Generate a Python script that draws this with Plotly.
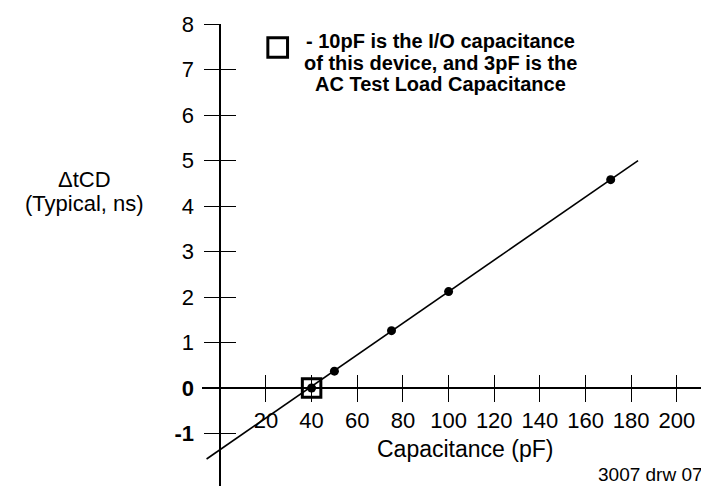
import plotly.graph_objects as go

# ---- data ----
cap_pf = [40, 50, 75, 100, 171]             # measured capacitance points (pF)
dtcd_ns = [0.0, 0.37, 1.26, 2.12, 4.58]     # ΔtCD (typical, ns)
ref_point_x = [40]                          # 10pF I/O + 3pF reference point
ref_point_y = [0.0]
fit_x = [-6, 183]                           # ends of the drawn straight line
fit_y = [-1.56, 5.0]
x_ticks = [20, 40, 60, 80, 100, 120, 140, 160, 180, 200]
y_ticks = [-1, 0, 1, 2, 3, 4, 5, 6, 7, 8]
y_tick_text = ["<b>-1</b>", "<b>0</b>", "1", "2", "3", "4", "5", "6", "7", "8"]
note_lines = ["- 10pF is the I/O capacitance",
              "of this device, and 3pF is the",
              "AC Test Load Capacitance"]

FONT = "Liberation Sans, Arial, sans-serif"
XR = [-8, 211]
YR = [-2.33, 8.002]
X0_POS = (0 - XR[0]) / (XR[1] - XR[0])      # where x=0 sits in paper x
Y0_POS = (0 - YR[0]) / (YR[1] - YR[0])      # where y=0 sits in paper y

fig = go.Figure()
fig.add_trace(go.Scatter(x=fit_x, y=fit_y, mode="lines",
                         line=dict(color="black", width=1.6),
                         showlegend=False, hoverinfo="skip"))
fig.add_trace(go.Scatter(x=cap_pf, y=dtcd_ns, mode="markers",
                         marker=dict(color="black", size=9),
                         showlegend=False, cliponaxis=False))
fig.add_trace(go.Scatter(x=ref_point_x, y=ref_point_y, mode="markers",
                         marker=dict(symbol="square-open", size=18.5, color="black",
                                     line=dict(color="black", width=3)),
                         showlegend=False, cliponaxis=False))
# empty trace so the overlay axes (inner half of the crossing ticks) are drawn
fig.add_trace(go.Scatter(x=[None], y=[None], xaxis="x2", yaxis="y2",
                         showlegend=False, hoverinfo="skip"))

common_x = dict(range=XR, tickmode="array", tickvals=x_ticks, showgrid=False,
                zeroline=False, anchor="free", position=Y0_POS,
                tickcolor="black", tickwidth=1.3, ticklen=13)
fig.update_layout(
    width=709, height=486,
    margin=dict(l=194, r=15, t=16, b=0, pad=0),
    paper_bgcolor="white", plot_bgcolor="white",
    font=dict(family=FONT, color="black"),
    xaxis=dict(**common_x, ticks="outside", showline=True, linecolor="black",
               linewidth=1.7, tickfont=dict(size=22, family=FONT, color="black"),
               ticklabelstandoff=0),
    xaxis2=dict(**common_x, ticks="inside", overlaying="x", showline=False,
                showticklabels=False),
    yaxis=dict(range=YR, tickmode="array", tickvals=y_ticks, ticktext=y_tick_text,
               showgrid=False, zeroline=False, anchor="free", position=X0_POS,
               ticks="outside", ticklen=15, tickwidth=1.3, tickcolor="black",
               showline=True, linecolor="black", linewidth=1.7,
               tickfont=dict(size=22, family=FONT, color="black"),
               ticklabelstandoff=6),
    yaxis2=dict(range=YR, tickmode="array", tickvals=[v for v in y_ticks if v != 0],
                showgrid=False, zeroline=False, anchor="free", position=X0_POS,
                overlaying="y", ticks="inside", ticklen=15, tickwidth=1.3,
                tickcolor="black", showline=False, showticklabels=False),
    showlegend=False,
)

# key square for the note
fig.add_shape(type="rect", xref="paper", yref="paper",
              x0=0.1317, x1=0.1711, y0=0.92904, y1=0.97096,
              line=dict(color="black", width=3), fillcolor="rgba(0,0,0,0)")

note_y = [0.9632, 0.917, 0.8723]
for txt, yy in zip(note_lines, note_y):
    fig.add_annotation(text=f"<b>{txt}</b>", xref="paper", yref="paper",
                       x=0.476, y=yy, xanchor="center", yanchor="middle",
                       showarrow=False, font=dict(size=20, family=FONT, color="black"))

# axis titles
fig.add_annotation(text="\u0394tCD", xref="paper", yref="paper", x=-0.235, y=0.6687,
                   xanchor="center", yanchor="middle", showarrow=False,
                   font=dict(size=22, family=FONT, color="black"))
fig.add_annotation(text="(Typical, ns)", xref="paper", yref="paper", x=-0.235, y=0.6191,
                   xanchor="center", yanchor="middle", showarrow=False,
                   font=dict(size=22, family=FONT, color="black"))
fig.add_annotation(text="Capacitance (pF)", xref="paper", yref="paper", x=0.525, y=0.0947,
                   xanchor="center", yanchor="middle", showarrow=False,
                   font=dict(size=23, family=FONT, color="black"))
fig.add_annotation(text="3007 drw 07", xref="paper", yref="paper", x=0.896, y=0.014,
                   xanchor="center", yanchor="bottom", showarrow=False,
                   font=dict(size=19, family=FONT, color="black"))

fig.write_html("out.html")
